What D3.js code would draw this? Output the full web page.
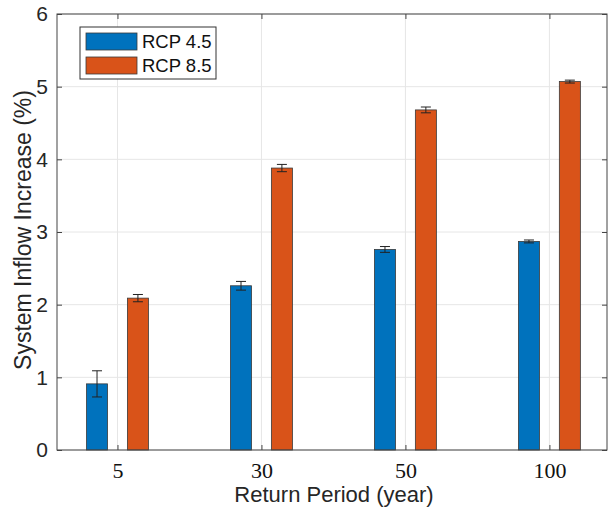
<!DOCTYPE html>
<html>
<head>
<meta charset="utf-8">
<script src="https://cdn.jsdelivr.net/npm/d3@7"></script>
<style>
  body { margin: 0; background: #fff; }
  svg { display: block; }
</style>
</head>
<body>
<svg id="grafico" width="609" height="514"></svg>
<script>
// dados
const periodos = ["5", "30", "50", "100"];
const series = ["RCP 4.5", "RCP 8.5"];
const cores = ["#0072BD", "#D95319"];
const valores_rcp45 = [0.91, 2.26, 2.76, 2.87];
const erros_rcp45 = [0.18, 0.06, 0.04, 0.02];
const valores_rcp85 = [2.09, 3.88, 4.68, 5.07];
const erros_rcp85 = [0.05, 0.05, 0.04, 0.02];
const ticks_y = [0, 1, 2, 3, 4, 5, 6];

const svg = d3.select("#grafico");
const margem = { esq: 57, dir: 607, topo: 14, base: 450 };

const x = d3.scaleLinear().domain([0.58, 4.4]).range([margem.esq, margem.dir]);
const y = d3.scaleLinear().domain([0, 6]).range([margem.base, margem.topo]);

const largura_barra = 0.146;
const deslocamento = [-0.142, 0.142];
const fonte_sans = "Liberation Sans, Arial, sans-serif";

// grade
const grade = svg.append("g");
grade.selectAll(".gy").data(ticks_y).enter().append("line")
  .attr("x1", margem.esq).attr("x2", margem.dir)
  .attr("y1", d => y(d)).attr("y2", d => y(d))
  .attr("stroke", "#e6e6e6").attr("stroke-width", 1);
grade.selectAll(".gx").data(periodos).enter().append("line")
  .attr("x1", (d, i) => x(i + 1)).attr("x2", (d, i) => x(i + 1))
  .attr("y1", margem.topo).attr("y2", margem.base)
  .attr("stroke", "#e6e6e6").attr("stroke-width", 1);

// barras
const dados = [
  { valores: valores_rcp45, erros: erros_rcp45 },
  { valores: valores_rcp85, erros: erros_rcp85 }
];

dados.forEach((s, k) => {
  const g = svg.append("g");
  g.selectAll("rect").data(s.valores).enter().append("rect")
    .attr("x", (d, i) => x(i + 1 + deslocamento[k] - largura_barra / 2))
    .attr("width", x(largura_barra) - x(0))
    .attr("y", d => y(d))
    .attr("height", d => y(0) - y(d))
    .attr("fill", cores[k])
    .attr("stroke", "#3a3a3a").attr("stroke-width", 0.8);

  const eb = g.selectAll(".erro").data(s.valores).enter().append("g");
  eb.append("line")
    .attr("x1", (d, i) => x(i + 1 + deslocamento[k]))
    .attr("x2", (d, i) => x(i + 1 + deslocamento[k]))
    .attr("y1", (d, i) => y(d - s.erros[i]))
    .attr("y2", (d, i) => y(d + s.erros[i]))
    .attr("stroke", "#222").attr("stroke-width", 1);
  [-1, 1].forEach(sinal => {
    eb.append("line")
      .attr("x1", (d, i) => x(i + 1 + deslocamento[k]) - 5)
      .attr("x2", (d, i) => x(i + 1 + deslocamento[k]) + 5)
      .attr("y1", (d, i) => y(d + sinal * s.erros[i]))
      .attr("y2", (d, i) => y(d + sinal * s.erros[i]))
      .attr("stroke", "#222").attr("stroke-width", 1);
  });
});

// eixos
const eixo_y = svg.append("g")
  .attr("transform", `translate(${margem.esq},0)`)
  .call(d3.axisLeft(y).tickValues(ticks_y).tickSize(-5).tickPadding(9).tickFormat(d3.format("d")));
eixo_y.select(".domain").remove();
eixo_y.selectAll("line").attr("stroke", "#444");
eixo_y.selectAll("text").attr("font-family", fonte_sans)
  .attr("font-size", 21).attr("fill", "#262626");

const eixo_y_dir = svg.append("g")
  .attr("transform", `translate(${margem.dir},0)`)
  .call(d3.axisRight(y).tickValues(ticks_y).tickSize(-5).tickFormat(""));
eixo_y_dir.select(".domain").remove();
eixo_y_dir.selectAll("line").attr("stroke", "#444");

const eixo_x = svg.append("g")
  .attr("transform", `translate(0,${margem.base})`)
  .call(d3.axisBottom(x).tickValues([1, 2, 3, 4]).tickSize(-5).tickPadding(12)
    .tickFormat((d, i) => periodos[i]));
eixo_x.select(".domain").remove();
eixo_x.selectAll("line").attr("stroke", "#444");
eixo_x.selectAll("text").attr("font-family", "Liberation Serif, Times New Roman, serif")
  .attr("font-size", 22).attr("fill", "#111");

const eixo_x_topo = svg.append("g")
  .attr("transform", `translate(0,${margem.topo})`)
  .call(d3.axisTop(x).tickValues([1, 2, 3, 4]).tickSize(-5).tickFormat(""));
eixo_x_topo.select(".domain").remove();
eixo_x_topo.selectAll("line").attr("stroke", "#444");

// moldura
svg.append("rect")
  .attr("x", margem.esq).attr("y", margem.topo)
  .attr("width", margem.dir - margem.esq).attr("height", margem.base - margem.topo)
  .attr("fill", "none").attr("stroke", "#444").attr("stroke-width", 1);

// rótulos
svg.append("text")
  .attr("x", 334).attr("y", 502)
  .attr("text-anchor", "middle")
  .attr("font-family", fonte_sans).attr("font-size", 22)
  .attr("fill", "#262626")
  .text("Return Period (year)");

svg.append("text")
  .attr("transform", `translate(31,230) rotate(-90)`)
  .attr("text-anchor", "middle")
  .attr("font-family", fonte_sans).attr("font-size", 23)
  .attr("fill", "#262626")
  .text("System Inflow Increase (%)");

// legenda
const legenda = svg.append("g").attr("transform", "translate(80,27)");
legenda.append("rect")
  .attr("width", 136).attr("height", 52)
  .attr("fill", "#fff").attr("stroke", "#333").attr("stroke-width", 1);
series.forEach((nome, k) => {
  legenda.append("rect")
    .attr("x", 6).attr("y", 6 + k * 24)
    .attr("width", 51).attr("height", 17)
    .attr("fill", cores[k]).attr("stroke", "#3a3a3a").attr("stroke-width", 0.8);
  legenda.append("text")
    .attr("x", 62).attr("y", 6 + k * 24 + 15)
    .attr("font-family", fonte_sans).attr("font-size", 18.5)
    .attr("fill", "#111")
    .text(nome);
});
</script>
</body>
</html>
